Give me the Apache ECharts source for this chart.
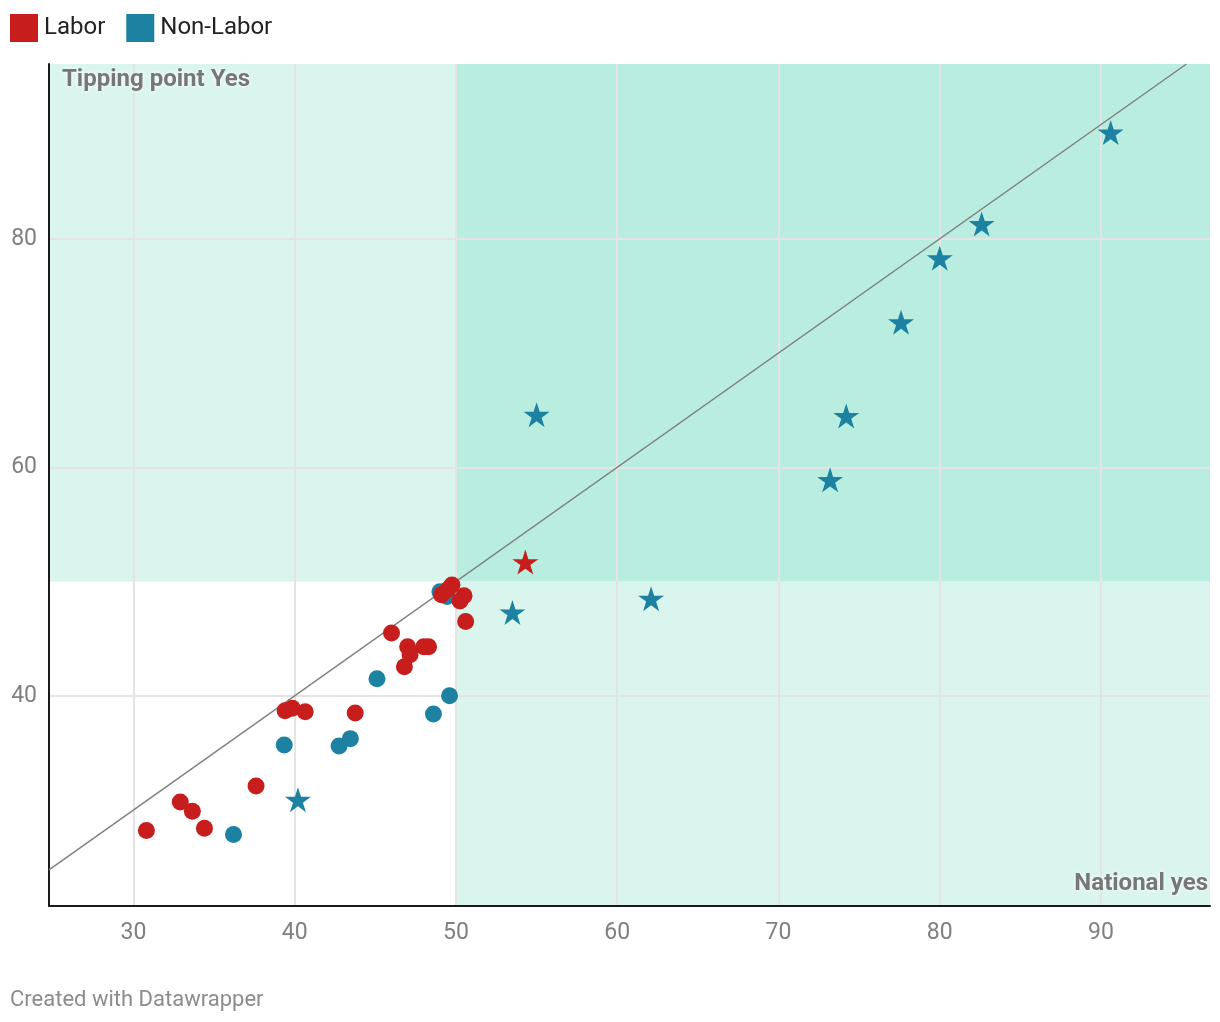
<!DOCTYPE html>
<html>
<head>
<meta charset="utf-8">
<script src="https://cdn.jsdelivr.net/npm/echarts@6/dist/echarts.min.js"></script>
<style>
html,body{margin:0;padding:0;background:#fff;}
#chart{width:1220px;height:1022px;}
</style>
</head>
<body>
<div id="chart"></div>
<script>
// ---- data ----
const laborCircles = [
  [30.8,28.2],[32.9,30.7],[33.65,29.9],[34.4,28.4],[37.6,32.1],
  [39.4,38.7],[39.85,38.9],[40.65,38.6],[43.75,38.5],
  [46.0,45.5],[47.0,44.3],[47.15,43.6],[46.8,42.55],[48.0,44.3],[48.3,44.3],
  [49.1,48.85],[49.5,49.3],[49.75,49.7],[50.25,48.3],[50.5,48.75],[50.6,46.5]
];
const laborStars = [[54.3,51.7]];
const nonLaborCircles = [
  [36.2,27.85],[39.35,35.7],[42.75,35.6],[43.45,36.25],[45.1,41.5],
  [48.6,38.4],[49.6,40.0],[49.0,49.1],[49.45,48.7]
];
const nonLaborStars = [
  [40.2,30.9],[53.5,47.3],[55.0,64.6],[62.1,48.5],[73.2,58.9],
  [74.2,64.5],[77.6,72.7],[80.0,78.3],[82.6,81.3],[90.6,89.3]
];
const xTicks = [30,40,50,60,70,80,90];
const yTicks = [40,60,80];
const xRange = [24.76, 96.76];
const yRange = [21.6, 95.3];
const threshold = 50;
const diagonal = [[24.76,24.76],[95.3,95.3]];

const RED = '#c71e1d', BLUE = '#1d81a2';
const LIGHT = '#daf5ee', DARK = '#b8ede0';
const STAR = 'path://M50,0 L61.2,34.5 L97.6,34.5 L68.2,55.9 L79.4,90.5 L50,69.1 L20.6,90.5 L31.8,55.9 L2.4,34.5 L38.8,34.5 Z';

const chart = echarts.init(document.getElementById('chart'), null, {renderer:'canvas'});
const textFont = 'Roboto';
chart.setOption({
  animation:false,
  backgroundColor:'#fff',
  textStyle:{fontFamily:textFont},
  legend:{
    left:10, top:14, itemWidth:28, itemHeight:28, itemGap:21, padding:0,
    icon:'rect', data:['Labor','Non-Labor'],
    textStyle:{fontSize:24, color:'#222', fontFamily:textFont, padding:[0,0,0,1]},
    selectedMode:false
  },
  grid:{left:49, right:10, top:64, bottom:116, containLabel:false},
  xAxis:{
    type:'value', min:xRange[0], max:xRange[1], z:1,
    axisLine:{show:true, onZero:false, lineStyle:{color:'#1a1a1a', width:2}},
    axisTick:{show:false, customValues:xTicks},
    axisLabel:{customValues:xTicks, color:'#808080', fontSize:23, margin:16, fontFamily:textFont},
    splitLine:{show:true, lineStyle:{color:'#e4e4e4', width:2}}
  },
  yAxis:{
    type:'value', min:yRange[0], max:yRange[1], z:1,
    axisLine:{show:true, onZero:false, lineStyle:{color:'#1a1a1a', width:2}},
    axisTick:{show:false, customValues:yTicks},
    axisLabel:{customValues:yTicks, color:'#808080', fontSize:23, margin:12, fontFamily:textFont},
    splitLine:{show:true, lineStyle:{color:'#e4e4e4', width:2}}
  },
  graphic:[
    {type:'text', left:62, top:68, z:100, style:{text:'Tipping point Yes', font:'bold 24px Roboto', fill:'#777', textShadowColor:'#fff', textShadowBlur:4}},
    {type:'text', right:12, top:872, z:100, style:{text:'National yes', font:'bold 24px Roboto', fill:'#777', textShadowColor:'#fff', textShadowBlur:4}},
    {type:'text', left:10, top:989, style:{text:'Created with Datawrapper', font:'22px Roboto', fill:'#8c8c8c'}}
  ],
  series:[
    {
      name:'diag', type:'line', data:diagonal, symbol:'none', z:1.5, silent:true,
      lineStyle:{color:'#808080', width:1.5},
      markArea:{
        silent:true, z:0,
        data:[
          [{coord:[xRange[0],threshold], itemStyle:{color:LIGHT}},{coord:[threshold,yRange[1]]}],
          [{coord:[threshold,yRange[0]], itemStyle:{color:LIGHT}},{coord:[xRange[1],threshold]}],
          [{coord:[threshold,threshold], itemStyle:{color:DARK}},{coord:[xRange[1],yRange[1]]}]
        ]
      }
    },
    {name:'Non-Labor', type:'scatter', data:nonLaborCircles, symbol:'circle', symbolSize:17, z:3, itemStyle:{color:BLUE, opacity:1}},
    {name:'Non-Labor', type:'scatter', data:nonLaborStars, symbol:STAR, symbolSize:[26,25], z:3, itemStyle:{color:BLUE, opacity:1}},
    {name:'Labor', type:'scatter', data:laborCircles, symbol:'circle', symbolSize:17, z:4, itemStyle:{color:RED, opacity:1}},
    {name:'Labor', type:'scatter', data:laborStars, symbol:STAR, symbolSize:[26,25], z:4, itemStyle:{color:RED, opacity:1}}
  ]
});
</script>
</body>
</html>
